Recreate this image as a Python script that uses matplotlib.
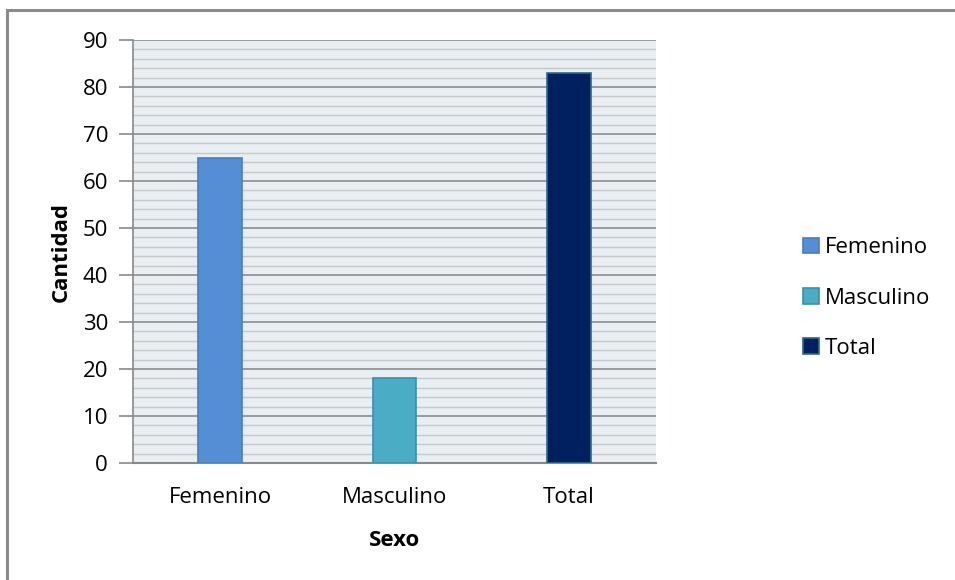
import matplotlib
matplotlib.use("Agg")
import matplotlib.pyplot as plt
from matplotlib.patches import Rectangle, Patch
import numpy as np

categories = ["Femenino", "Masculino", "Total"]
values = [65, 18, 83]
colors = ["#558ED5", "#4BACC6", "#002060"]
edges = ["#4A7EBB", "#3C8FA8", "#2A6A8A"]
yticks = [0, 10, 20, 30, 40, 50, 60, 70, 80, 90]

plt.rcParams['font.family'] = ['Open Sans', 'DejaVu Sans']
FS = 16

fig = plt.figure(figsize=(9.55, 5.8), dpi=100)
fig.patches.append(Rectangle((7/955, -0.05), 1.1, 1 - 10/580 + 0.05, transform=fig.transFigure,
                             fill=False, edgecolor="#8a8a8a", linewidth=2.2, zorder=0))

ax = fig.add_axes([133/955, 1 - 463/580, 523/955, 423/580])
ax.set_facecolor("#E8EEF2")
x = np.arange(len(categories))
for i, (v, c, e) in enumerate(zip(values, colors, edges)):
    ax.bar(x[i], v, width=0.25, color=c, edgecolor=e, linewidth=1.2, zorder=3, label=categories[i])

ax.set_xlim(-0.5, 2.5)
ax.set_ylim(0, 90)
ax.set_yticks(yticks)
ax.set_yticks(np.arange(0, 91, 2), minor=True)
ax.set_xticks(x)
ax.set_xticklabels(categories, fontsize=FS)
ax.tick_params(axis='y', which='major', labelsize=FS, length=10, color="#8a8a8a", width=1.2, pad=8)
ax.tick_params(axis='y', which='minor', length=0)
ax.tick_params(axis='x', length=0, pad=17)
ax.grid(True, which='major', axis='y', color="#8c8c8c", linewidth=1.2, zorder=1)
ax.grid(True, which='minor', axis='y', color="#c8c8c8", linewidth=1.0, zorder=1)
ax.set_axisbelow(True)
for s in ["top", "right"]:
    ax.spines[s].set_visible(False)
ax.spines["left"].set_color("#8a8a8a")
ax.spines["left"].set_linewidth(1.2)
ax.spines["bottom"].set_color("#8a8a8a")
ax.spines["bottom"].set_linewidth(1.5)

ax.set_ylabel("Cantidad", fontsize=FS, fontweight='bold', labelpad=8)
ax.set_xlabel("Sexo", fontsize=FS, fontweight='bold', labelpad=16)

handles = [Patch(facecolor=c, edgecolor=e, linewidth=1.2) for c, e in zip(colors, edges)]
fig.legend(handles, categories, loc='center left', bbox_to_anchor=(783/955, 1 - 298/580),
           frameon=False, fontsize=FS, handlelength=0.7, handleheight=0.7,
           handletextpad=0.3, labelspacing=1.32)

fig.savefig("out.png", dpi=100)
